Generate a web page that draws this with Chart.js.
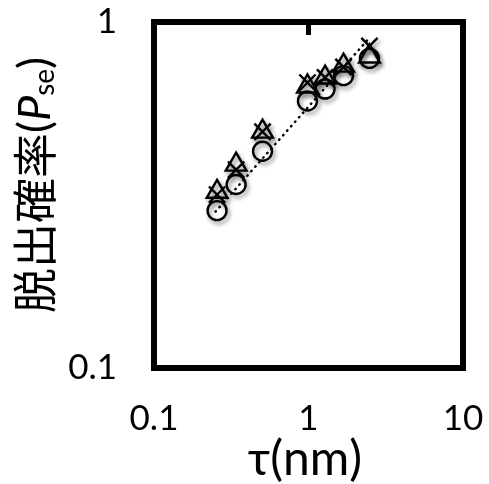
<!DOCTYPE html>
<html><head><meta charset="utf-8">
<script src="https://cdn.jsdelivr.net/npm/chart.js@4.4.0/dist/chart.umd.min.js"></script>
<style>html,body{margin:0;padding:0;background:#fff;}</style>
</head><body>
<canvas id="c" width="489" height="484" style="display:block;width:489px;height:484px"></canvas>
<script>
// ---- data ----
const tau = [0.256, 0.34, 0.504, 0.985, 1.28, 1.685, 2.48];
const circleP = [0.285, 0.339, 0.423, 0.591, 0.640, 0.700, 0.785];
const triangleP = [0.323, 0.387, 0.482, 0.651, 0.691, 0.748, 0.795];
const crossP = [0.317, 0.374, 0.482, 0.668, 0.691, 0.741, 0.852];
const fitTau = [0.25, 2.5];
const fitP = [0.283, 0.904];
const xTicks = [0.1, 1, 10];
const xTickLabels = ['0.1', '1', '10'];
const yTicks = [0.1, 1];
const yTickLabels = ['0.1', '1'];
const xTitle = 'τ(nm)';
const yTitleParts = ['脱出確率', '(', 'P', 'se', ')'];

const pts = (xs, ys) => xs.map((x, i) => ({x: x, y: ys[i]}));
const LATIN = 'Lato, "DejaVu Sans", sans-serif';

const framePlugin = {
  id: 'frame',
  beforeDatasetDraw(chart, args) {
    if (args.index === 0) return;
    const ctx = chart.ctx;
    ctx.save();
    ctx.shadowColor = 'rgba(0,0,0,0.45)';
    ctx.shadowBlur = 4;
    ctx.shadowOffsetX = 2;
    ctx.shadowOffsetY = 3;
  },
  afterDatasetDraw(chart, args) {
    if (args.index === 0) return;
    chart.ctx.restore();
  },
  afterDraw(chart) {
    const ctx = chart.ctx;
    const a = chart.chartArea;
    ctx.save();
    ctx.strokeStyle = '#000';
    ctx.lineWidth = 6;
    ctx.lineJoin = 'miter';
    ctx.strokeRect(a.left, a.top, a.right - a.left, a.bottom - a.top);
    // small inward tick on top edge at x = 1
    const px = chart.scales.x.getPixelForValue(1);
    ctx.fillStyle = '#000';
    ctx.fillRect(px - 2.5, a.top, 5, 13);
    // x title
    ctx.font = '48px ' + LATIN;
    ctx.textAlign = 'center';
    ctx.textBaseline = 'middle';
    ctx.fillText(xTitle, 305, 460);
    // y title (rotated, with italic P and subscript)
    const fonts = [
      '45px "Noto Sans CJK JP", sans-serif',
      '45px ' + LATIN,
      'italic 45px ' + LATIN,
      '28px ' + LATIN,
      '45px ' + LATIN
    ];
    const dys = [0, 0, 0, 10, 0];
    let widths = yTitleParts.map((t, i) => { ctx.font = fonts[i]; return ctx.measureText(t).width; });
    const total = widths.reduce((s, w) => s + w, 0);
    ctx.translate(35, 185);
    ctx.rotate(-Math.PI / 2);
    ctx.textAlign = 'left';
    let x = -total / 2;
    yTitleParts.forEach((t, i) => {
      ctx.font = fonts[i];
      ctx.fillText(t, x, dys[i]);
      x += widths[i];
    });
    ctx.restore();
  }
};

new Chart(document.getElementById('c'), {
  type: 'scatter',
  data: {
    datasets: [
      {
        label: 'fit',
        data: pts(fitTau, fitP),
        showLine: true,
        borderColor: '#000',
        borderWidth: 2.5,
        borderDash: [0.5, 5.5],
        borderCapStyle: 'round',
        pointRadius: 0,
        fill: false
      },
      {
        label: 'cross',
        data: pts(tau, crossP),
        pointStyle: 'crossRot',
        pointRadius: 11.5,
        borderColor: '#000',
        backgroundColor: 'rgba(0,0,0,0)',
        pointBorderWidth: 2.4
      },
      {
        label: 'triangle',
        data: pts(tau, triangleP),
        pointStyle: 'triangle',
        pointRadius: 12,
        borderColor: '#000',
        backgroundColor: 'rgba(0,0,0,0)',
        pointBorderWidth: 2.4
      },
      {
        label: 'circle',
        data: pts(tau, circleP),
        pointStyle: 'circle',
        pointRadius: 9.5,
        borderColor: '#000',
        backgroundColor: 'rgba(0,0,0,0)',
        pointBorderWidth: 2.4
      }
    ]
  },
  options: {
    responsive: false,
    animation: false,
    events: [],
    layout: {padding: {top: 22, right: 26, left: 0, bottom: 0}},
    plugins: {legend: {display: false}, tooltip: {enabled: false}},
    scales: {
      x: {
        type: 'logarithmic',
        position: 'bottom',
        min: 0.1, max: 10,
        grid: {display: false, drawTicks: false},
        border: {display: false},
        afterBuildTicks: s => { s.ticks = xTicks.map(v => ({value: v})); },
        afterFit: s => { s.height = 116; s.paddingLeft = 0; s.paddingRight = 0; },
        ticks: {
          autoSkip: false, maxRotation: 0, padding: 30, color: '#000',
          font: {family: LATIN, size: 35},
          callback: (v, i) => xTickLabels[i]
        }
      },
      y: {
        type: 'logarithmic',
        position: 'left',
        min: 0.1, max: 1,
        grid: {display: false, drawTicks: false},
        border: {display: false},
        afterBuildTicks: s => { s.ticks = yTicks.map(v => ({value: v})); },
        afterFit: s => { s.width = 154; s.paddingTop = 0; s.paddingBottom = 0; },
        ticks: {
          autoSkip: false, padding: 37, color: '#000',
          font: {family: LATIN, size: 35},
          callback: (v, i) => yTickLabels[i]
        }
      }
    }
  },
  plugins: [framePlugin]
});
</script>
</body></html>
